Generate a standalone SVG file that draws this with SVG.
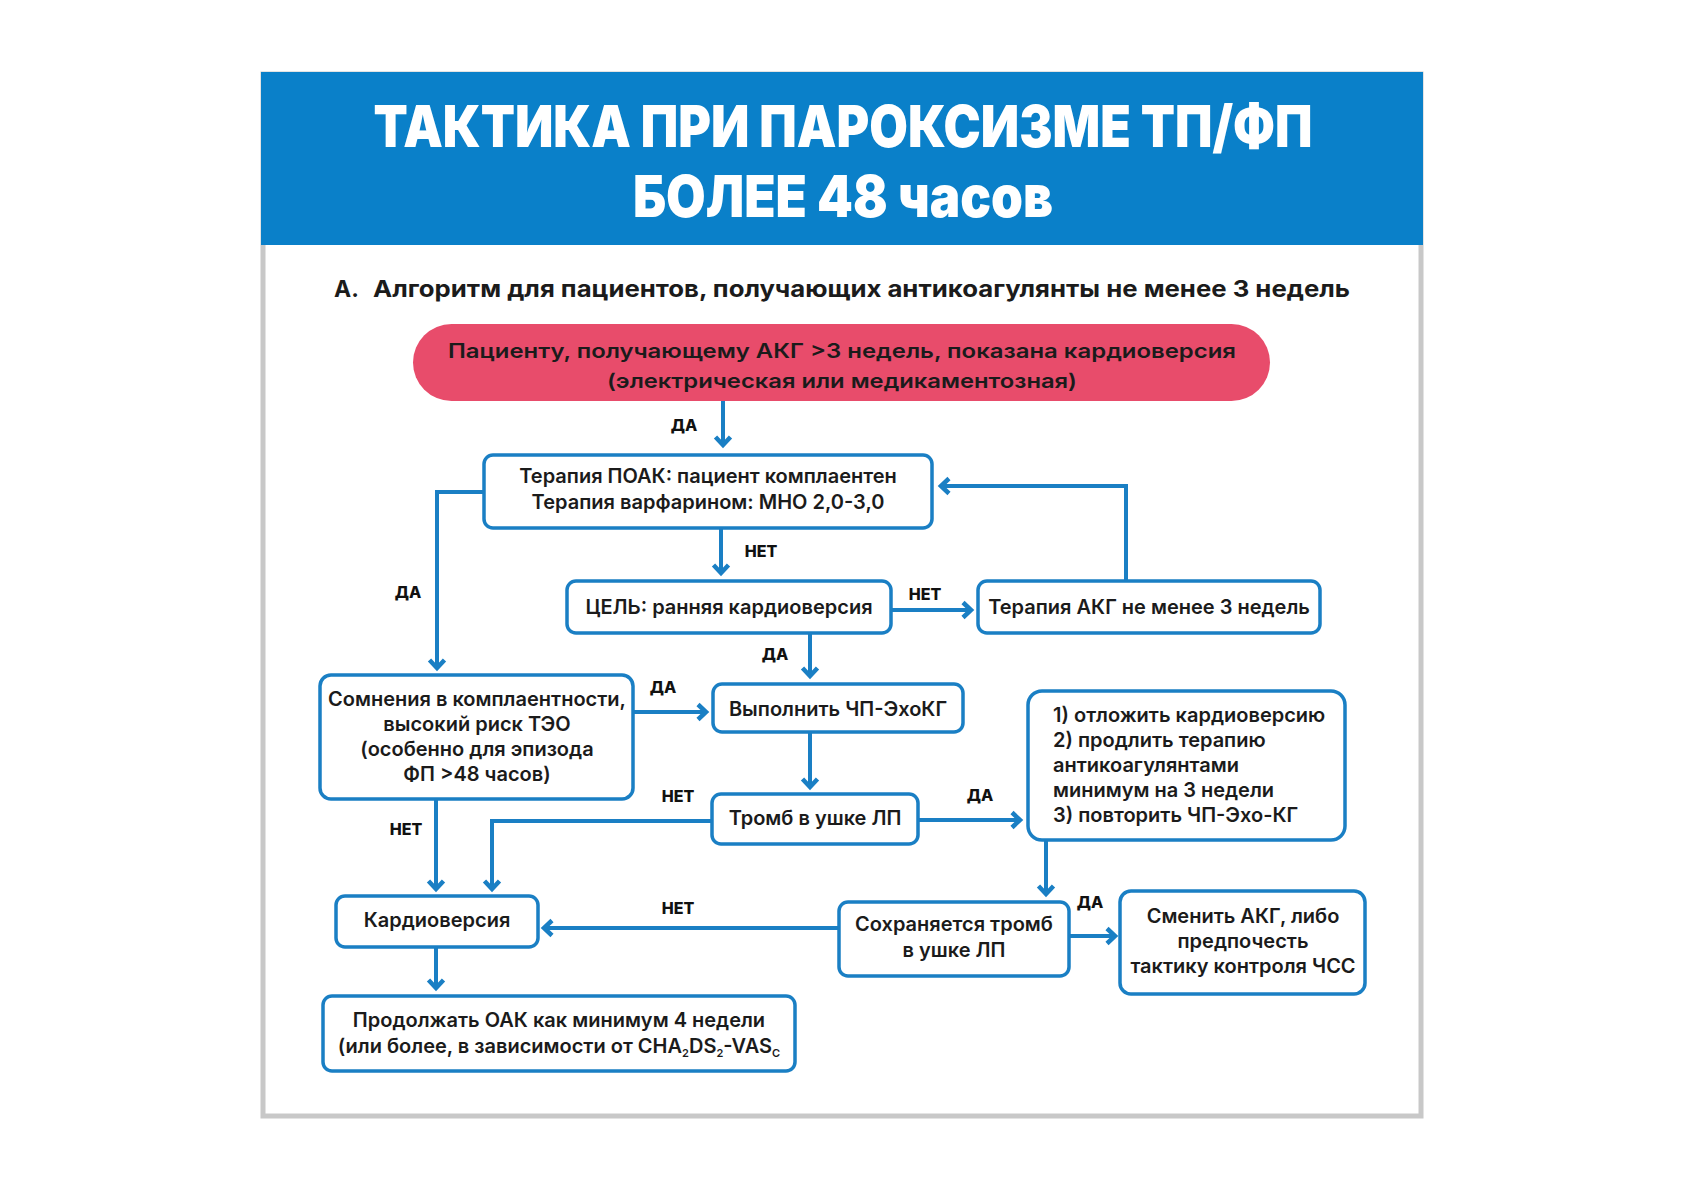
<svg xmlns="http://www.w3.org/2000/svg" width="1683" height="1190" viewBox="0 0 1683 1190">
<defs>
<style>
.frame{fill:#fff;stroke:#c8c8c8;stroke-width:5}
.box{fill:#fff;stroke:#1a7fc4;stroke-width:3.5}
.t{font-family:Inter,"Noto Sans",sans-serif;font-weight:600;font-size:20px;fill:#1b1b1b;text-anchor:middle}
.tl{text-anchor:start}
.lbl{font-family:Inter,"Noto Sans",sans-serif;font-weight:800;font-size:16px;fill:#111;text-anchor:middle}
.con{fill:none;stroke:#1a7fc4;stroke-width:4;marker-end:url(#arr)}
.title{font-family:Inter,"Noto Sans",sans-serif;font-weight:900;font-size:58px;fill:#fff;text-anchor:middle}
.sub{font-family:Inter,"Noto Sans",sans-serif;font-weight:700;font-size:23px;fill:#1b1b1b}
</style>
<marker id="arr" markerUnits="userSpaceOnUse" markerWidth="20" markerHeight="20" viewBox="-12 -10 14 20" refX="0" refY="0" orient="auto">
<path d="M-9,-7.5 L-1,0 L-9,7.5" fill="none" stroke="#1a7fc4" stroke-width="4.5" stroke-linejoin="miter"/>
</marker>
</defs>
<rect width="1683" height="1190" fill="#fff"/>
<rect class="frame" x="263" y="74" width="1158" height="1042"/>
<g id="header">
<rect x="261" y="72" width="1162" height="173" fill="#0a80c9"/>
<text class="title" x="843" y="147" textLength="939" lengthAdjust="spacingAndGlyphs">ТАКТИКА ПРИ ПАРОКСИЗМЕ ТП/ФП</text>
<text class="title" x="843" y="217" textLength="420" lengthAdjust="spacingAndGlyphs">БОЛЕЕ 48 часов</text>
</g>
<g id="subtitle">
<text class="sub" x="334" y="297">А.</text>
<text class="sub" x="373" y="297" textLength="977" lengthAdjust="spacingAndGlyphs">Алгоритм для пациентов, получающих антикоагулянты не менее 3 недель</text>
</g>

<g id="start">
<rect x="413" y="324" width="857" height="77" rx="38.5" fill="#e84c6b"/>
<text class="t" x="842" y="358" font-size="22px" textLength="788" lengthAdjust="spacingAndGlyphs">Пациенту, получающему АКГ &gt;3 недель, показана кардиоверсия</text>
<text class="t" x="842" y="388" font-size="22px" textLength="470" lengthAdjust="spacingAndGlyphs">(электрическая или медикаментозная)</text>
</g>

<g id="connectors">
<path class="con" d="M723,401 V446"/>
<path class="con" d="M721,528 V574"/>
<path class="con" d="M891,610 H972"/>
<path class="con" d="M1126,581 V486 H940"/>
<path class="con" d="M484,492 H437 V669"/>
<path class="con" d="M810,633 V677"/>
<path class="con" d="M633,712 H707"/>
<path class="con" d="M810,732 V788"/>
<path class="con" d="M918,820 H1021"/>
<path class="con" d="M712,821 H492 V890"/>
<path class="con" d="M436,799 V890"/>
<path class="con" d="M1046,840 V895"/>
<path class="con" d="M1069,936 H1116"/>
<path class="con" d="M839,928 H543"/>
<path class="con" d="M436,947 V989"/>
</g>

<g id="labels">
<text class="lbl" x="684" y="431">ДА</text>
<text class="lbl" x="761" y="557">НЕТ</text>
<text class="lbl" x="925" y="600">НЕТ</text>
<text class="lbl" x="408" y="598">ДА</text>
<text class="lbl" x="775" y="660">ДА</text>
<text class="lbl" x="663" y="693">ДА</text>
<text class="lbl" x="980" y="801">ДА</text>
<text class="lbl" x="678" y="802">НЕТ</text>
<text class="lbl" x="406" y="835">НЕТ</text>
<text class="lbl" x="1090" y="908">ДА</text>
<text class="lbl" x="678" y="914">НЕТ</text>
</g>

<g id="n1">
<rect class="box" x="484" y="455" width="448" height="73" rx="9"/>
<text class="t" x="708" y="483">Терапия ПОАК: пациент комплаентен</text>
<text class="t" x="708" y="509">Терапия варфарином: МНО 2,0-3,0</text>
</g>
<g id="n2">
<rect class="box" x="567" y="581" width="324" height="52" rx="9"/>
<text class="t" x="729" y="614">ЦЕЛЬ: ранняя кардиоверсия</text>
</g>
<g id="n3">
<rect class="box" x="978" y="581" width="342" height="52" rx="9"/>
<text class="t" x="1149" y="614">Терапия АКГ не менее 3 недель</text>
</g>
<g id="n4">
<rect class="box" x="320" y="675" width="313" height="124" rx="11"/>
<text class="t" x="477" y="706">Сомнения в комплаентности,</text>
<text class="t" x="477" y="731">высокий риск ТЭО</text>
<text class="t" x="477" y="756">(особенно для эпизода</text>
<text class="t" x="477" y="781">ФП &gt;48 часов)</text>
</g>
<g id="n5">
<rect class="box" x="713" y="684" width="250" height="48" rx="9"/>
<text class="t" x="838" y="716">Выполнить ЧП-ЭхоКГ</text>
</g>
<g id="n6">
<rect class="box" x="712" y="794" width="206" height="50" rx="9"/>
<text class="t" x="815" y="825">Тромб в ушке ЛП</text>
</g>
<g id="n7">
<rect class="box" x="1028" y="691" width="317" height="149" rx="14"/>
<text class="t tl" x="1053" y="722">1) отложить кардиоверсию</text>
<text class="t tl" x="1053" y="747">2) продлить терапию</text>
<text class="t tl" x="1053" y="772">антикоагулянтами</text>
<text class="t tl" x="1053" y="797">минимум на 3 недели</text>
<text class="t tl" x="1053" y="822">3) повторить ЧП-Эхо-КГ</text>
</g>
<g id="n8">
<rect class="box" x="839" y="902" width="230" height="74" rx="9"/>
<text class="t" x="954" y="931">Сохраняется тромб</text>
<text class="t" x="954" y="957">в ушке ЛП</text>
</g>
<g id="n9">
<rect class="box" x="1120" y="891" width="245" height="103" rx="11"/>
<text class="t" x="1243" y="923">Сменить АКГ, либо</text>
<text class="t" x="1243" y="948">предпочесть</text>
<text class="t" x="1243" y="973">тактику контроля ЧСС</text>
</g>
<g id="n10">
<rect class="box" x="336" y="896" width="202" height="51" rx="9"/>
<text class="t" x="437" y="927">Кардиоверсия</text>
</g>
<g id="n11">
<rect class="box" x="323" y="996" width="472" height="75" rx="9"/>
<text class="t" x="559" y="1027">Продолжать ОАК как минимум 4 недели</text>
<text class="t" x="559" y="1053">(или более, в зависимости от CHA<tspan font-size="11px" dy="4">2</tspan><tspan dy="-4">DS</tspan><tspan font-size="11px" dy="4">2</tspan><tspan dy="-4">-VAS</tspan><tspan font-size="11px" dy="4">C</tspan></text>
</g>
</svg>
